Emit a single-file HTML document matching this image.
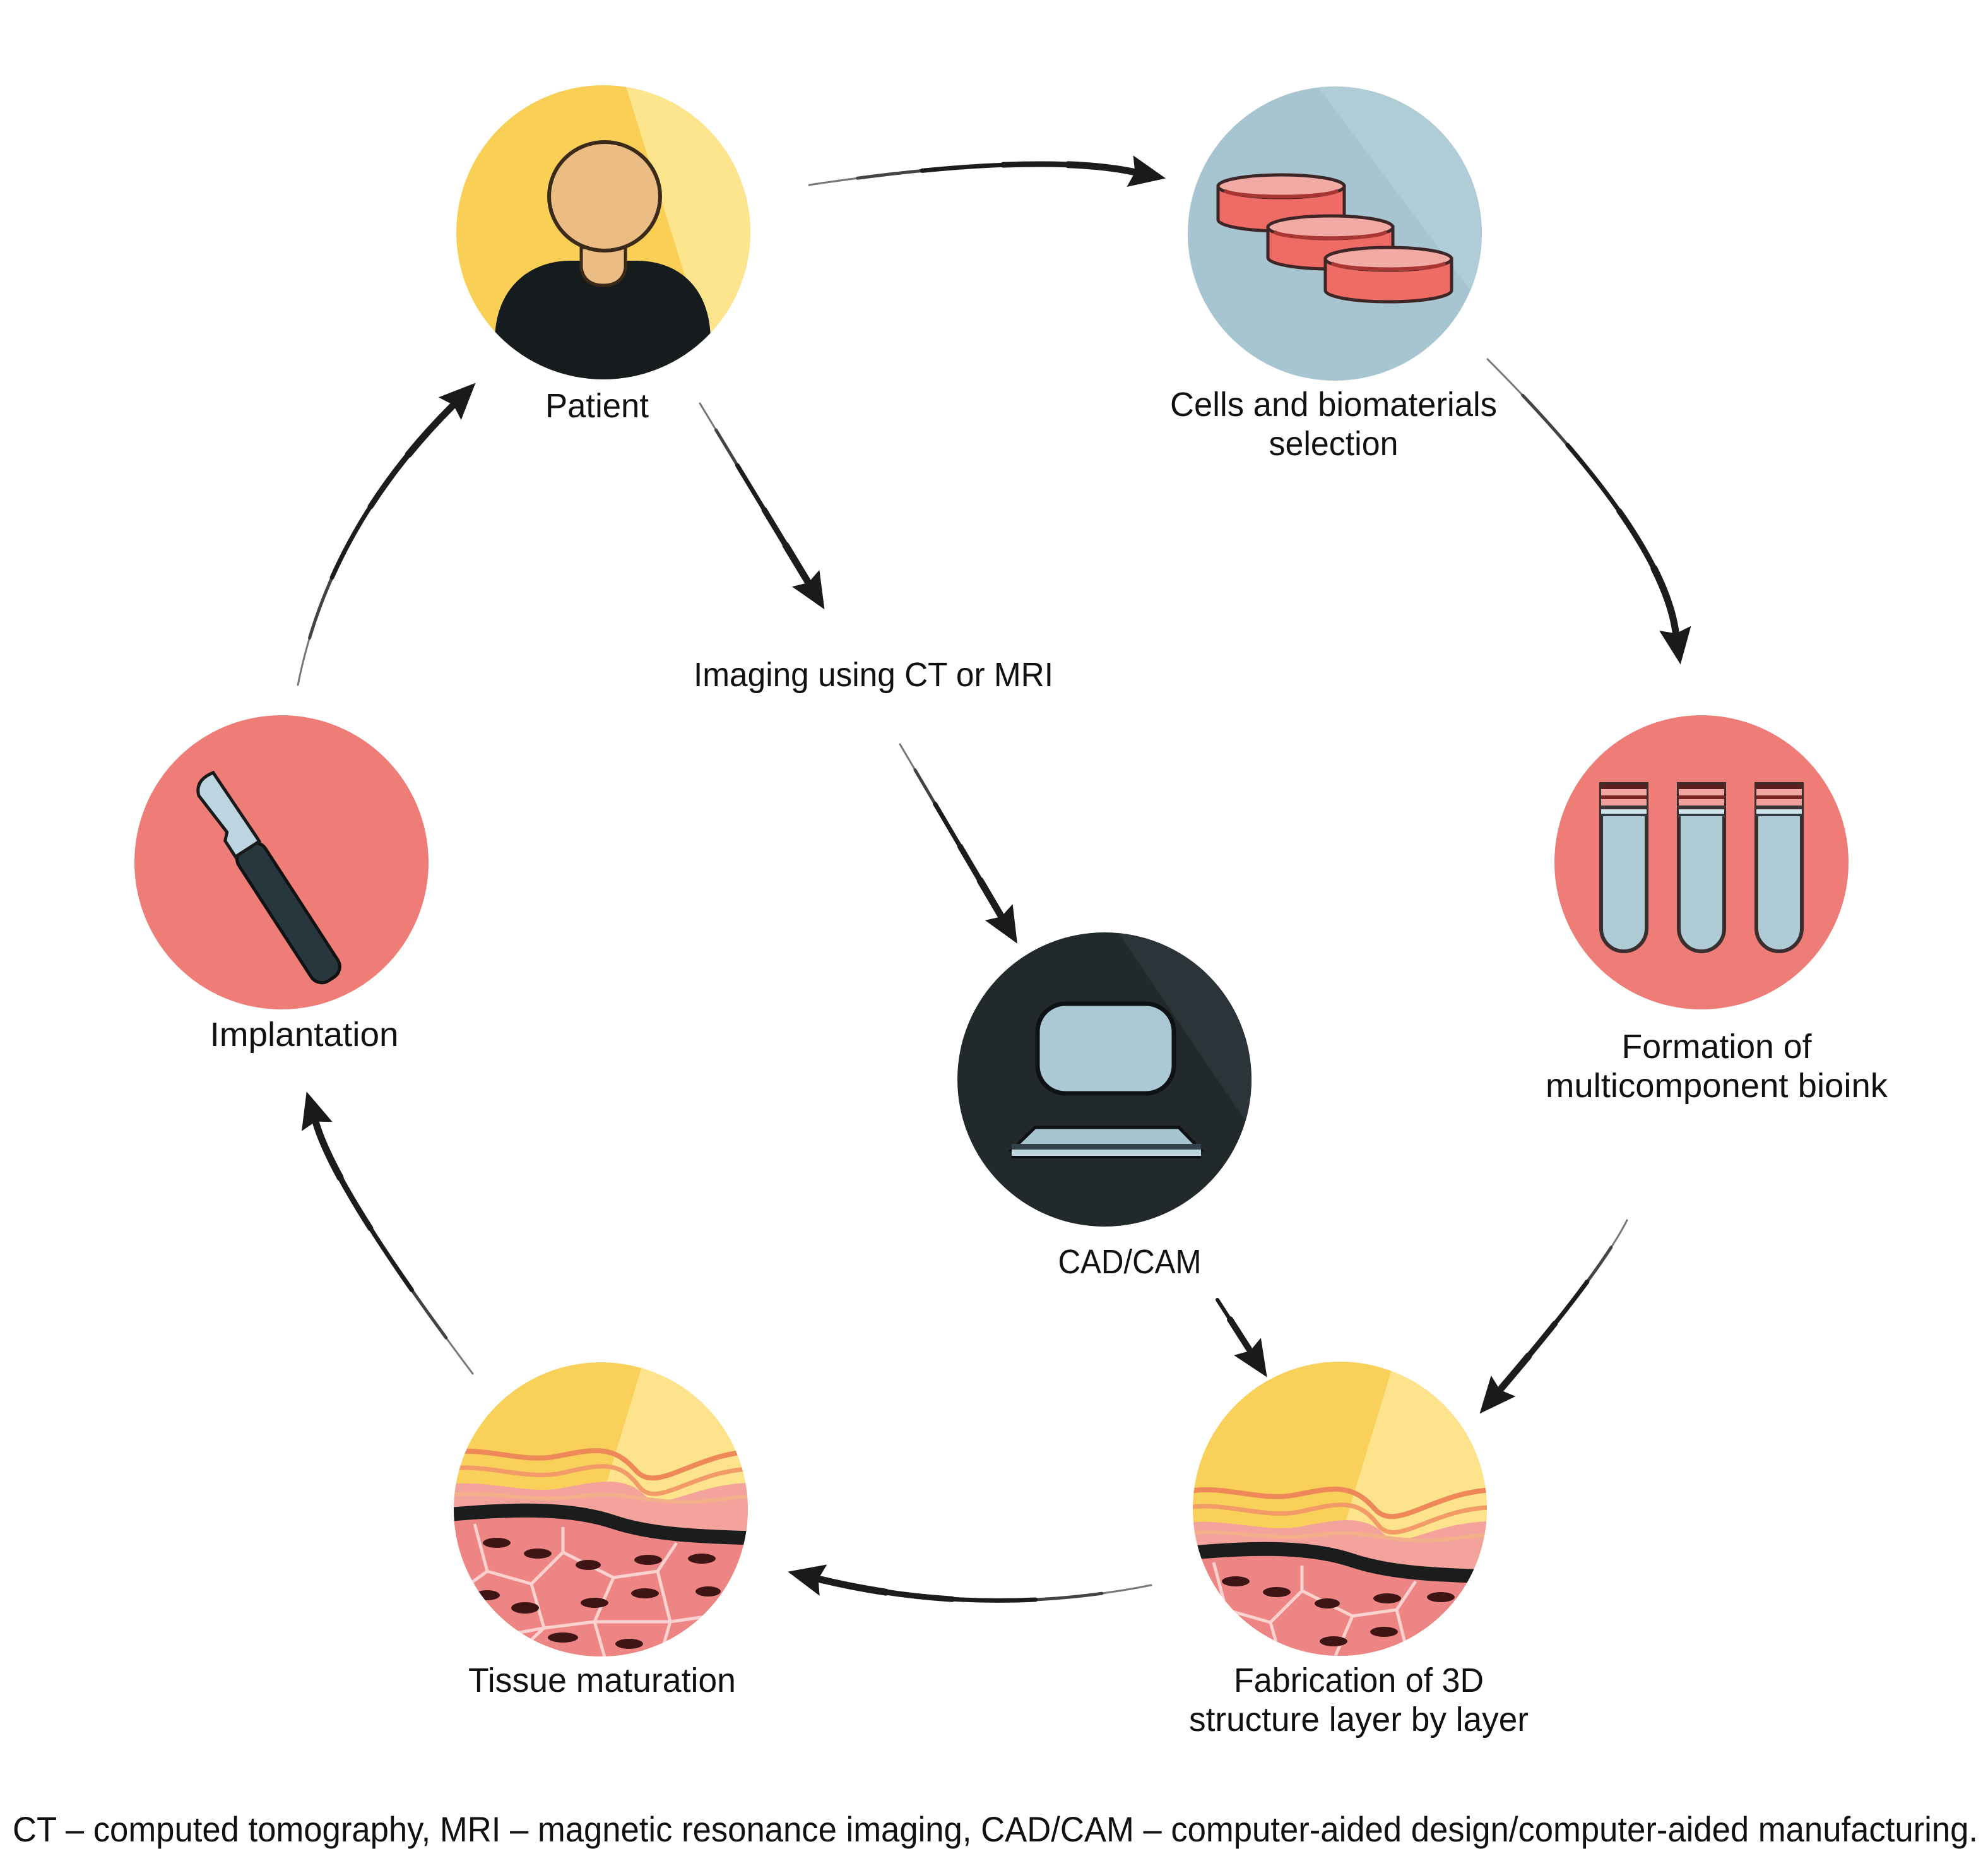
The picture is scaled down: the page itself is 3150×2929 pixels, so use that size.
<!DOCTYPE html>
<html><head><meta charset="utf-8"><style>
html,body{margin:0;padding:0;background:#fff;}
svg{display:block;}
text{font-family:"Liberation Sans",sans-serif;fill:#111;}
</style></head><body>
<svg width="3150" height="2929" viewBox="0 0 3150 2929" xmlns="http://www.w3.org/2000/svg">
<defs>
<marker id="ah" markerUnits="userSpaceOnUse" markerWidth="60" markerHeight="60" viewBox="0 -26 52 52" refX="4" refY="0" orient="auto">
<path d="M0,-22 L50,0 L0,22 L7,0 Z" fill="#1a1a1a"/>
</marker>
<clipPath id="cc" clipPathUnits="userSpaceOnUse"><circle cx="0" cy="0" r="233"/></clipPath>
<g id="tisInner">
<polygon points="85,-300 260,-300 260,-20 0,-20" fill="#fde48c"/>
<path d="M-260,-45 C-190,-60 -120,-30 -60,-42 S40,-60 70,-30 S150,-55 260,-50 L260,300 L-260,300 Z" fill="#f3a39b"/>
<path d="M-250,-95 C-190,-112 -130,-80 -70,-92 S20,-110 55,-70 S150,-100 250,-100" fill="none" stroke="#ef8858" stroke-width="8"/>
<path d="M-250,-70 C-190,-85 -120,-52 -60,-66 S30,-85 60,-45 S150,-75 250,-72" fill="none" stroke="#f29a68" stroke-width="7"/>
<path d="M-250,-30 C-180,-40 -110,-18 -40,-28 S60,-22 120,-20 S200,-30 250,-28" fill="none" stroke="#f4b08a" stroke-width="6"/>
<path d="M-260,8 C-120,-6 -40,-2 20,18 S150,41 260,44 L260,300 L-260,300 Z" fill="#ee8585"/>
<g fill="none" stroke="#fbd2cf" stroke-width="5" stroke-linejoin="round">
<path d="M-200,15 L-180,90 L-235,130"/>
<path d="M-180,90 L-110,110 L-60,60 L-60,20"/>
<path d="M-110,110 L-90,180 L-150,235"/>
<path d="M-90,180 L-10,170 L20,100 L-60,60"/>
<path d="M20,100 L90,90 L120,45"/>
<path d="M90,90 L110,170 L180,160 L225,100"/>
<path d="M-10,170 L10,240"/>
<path d="M110,170 L90,240"/>
<path d="M180,160 L205,225"/>
<path d="M-235,130 L-200,200"/>
<path d="M-150,235 L-200,200 L-90,180"/>
<path d="M-10,170 L110,170"/>
</g>
<g fill="#3f1414">
<ellipse cx="-165" cy="45" rx="22" ry="8"/>
<ellipse cx="-100" cy="62" rx="22" ry="8"/>
<ellipse cx="-20" cy="80" rx="20" ry="8"/>
<ellipse cx="75" cy="72" rx="22" ry="8"/>
<ellipse cx="160" cy="70" rx="22" ry="8"/>
<ellipse cx="-180" cy="128" rx="20" ry="8"/>
<ellipse cx="-120" cy="148" rx="22" ry="9"/>
<ellipse cx="-10" cy="140" rx="22" ry="8"/>
<ellipse cx="70" cy="125" rx="22" ry="8"/>
<ellipse cx="170" cy="122" rx="20" ry="8"/>
<ellipse cx="-150" cy="200" rx="20" ry="8"/>
<ellipse cx="-60" cy="195" rx="24" ry="8"/>
<ellipse cx="45" cy="205" rx="22" ry="8"/>
<ellipse cx="140" cy="200" rx="22" ry="8"/>
<ellipse cx="-20" cy="235" rx="22" ry="8"/>
</g>
<path d="M-260,2 C-120,-12 -40,-8 20,12 S150,35 260,38" fill="none" stroke="#1b1d1d" stroke-width="22"/>
</g>
</defs>

<!-- Patient -->
<g>
<circle cx="956" cy="368" r="233" fill="#f9cf55"/>
<g transform="translate(956,368)"><g clip-path="url(#cc)">
<polygon points="30,-250 260,-250 260,200 170,200" fill="#fde58e"/>
<path d="M-172,252 L-172,172 C-172,92 -121,47 -56,45 L56,45 C124,47 170,92 170,172 L170,252 Z" fill="#161b1d"/>
</g></g>
<path d="M921,392 L921,425 Q926,452 956,452 Q986,452 991,425 L991,392 Z" fill="#ecbc85" stroke="#3b2a1a" stroke-width="5"/>
<ellipse cx="958" cy="311" rx="88" ry="86" fill="#ecbc85" stroke="#3b2a1a" stroke-width="6"/>
</g>

<!-- Cells -->
<g>
<circle cx="2115" cy="370" r="233" fill="#a7c5d1"/>
<g transform="translate(2115,370)"><g clip-path="url(#cc)">
<polygon points="-40,-250 260,-250 260,150" fill="#b0ccd7"/>
</g></g>
<g stroke="#3e2626" stroke-width="5">
<path d="M1930,295 L1930,348 A100,18 0 0 0 2130,348 L2130,295 Z" fill="#ee6b66"/>
<ellipse cx="2030" cy="295" rx="100" ry="18" fill="#f2aaa4"/>
<path d="M1940,302 A92,12 0 0 0 2120,302" fill="none" stroke="#a83632" stroke-width="6"/>
<path d="M2009,360 L2009,408 A99,18 0 0 0 2207,408 L2207,360 Z" fill="#ee6b66"/>
<ellipse cx="2108" cy="360" rx="99" ry="18" fill="#f2aaa4"/>
<path d="M2019,367 A90,12 0 0 0 2197,367" fill="none" stroke="#a83632" stroke-width="6"/>
<path d="M2100,410 L2100,460 A100,18 0 0 0 2300,460 L2300,410 Z" fill="#ee6b66"/>
<ellipse cx="2200" cy="410" rx="100" ry="18" fill="#f2aaa4"/>
<path d="M2110,417 A92,12 0 0 0 2290,417" fill="none" stroke="#a83632" stroke-width="6"/>
</g>
</g>

<!-- Bioink -->
<g>
<circle cx="2696" cy="1366" r="233" fill="#ef7d77"/>
<g id="tube1">
<path d="M2537,1242 L2537,1471 A36,36 0 0 0 2609,1471 L2609,1242 Z" fill="#aecbd6" stroke="#3b2e2e" stroke-width="6"/>
<rect x="2537" y="1242" width="72" height="8" fill="#5a1f1f"/>
<rect x="2537" y="1250" width="72" height="10" fill="#f3a7a3"/>
<rect x="2537" y="1260" width="72" height="6" fill="#7a2424"/>
<rect x="2537" y="1266" width="72" height="10" fill="#f0a09c"/>
<rect x="2537" y="1276" width="72" height="6" fill="#3d3535"/>
<rect x="2537" y="1282" width="72" height="8" fill="#cfe3ea"/>
<line x1="2537" y1="1291" x2="2609" y2="1291" stroke="#2f3b40" stroke-width="4"/>
</g>
<use href="#tube1" transform="translate(123,0)"/>
<use href="#tube1" transform="translate(246,0)"/>
</g>

<!-- Implantation -->
<g>
<circle cx="446" cy="1366" r="233" fill="#ef7d77"/>
<g transform="translate(318,1232) rotate(57)">
<rect x="130" y="-25" width="250" height="50" rx="20" fill="#27373d" stroke="#111" stroke-width="5"/>
<path d="M4,-21 L125,-23 L135,-23 L135,22 L105,22 L95,12 L22,18 Q-2,10 4,-21 Z" fill="#bcd5e0" stroke="#1a1a1a" stroke-width="5"/>
</g>
</g>

<!-- CAD/CAM -->
<g>
<circle cx="1750" cy="1710" r="233" fill="#21292b"/>
<g transform="translate(1750,1710)"><g clip-path="url(#cc)">
<polygon points="10,-250 260,-250 260,120" fill="#2b3438"/>
</g></g>
<rect x="1644" y="1590" width="216" height="142" rx="44" fill="#aac9d5" stroke="#0e1214" stroke-width="7"/>
<polygon points="1640,1786 1868,1786 1903,1822 1603,1822" fill="#a6c5d1" stroke="#0e1214" stroke-width="5"/>
<rect x="1603" y="1812" width="300" height="9" fill="#33434a"/>
<rect x="1603" y="1821" width="300" height="10" fill="#bcd4dd"/>
<line x1="1603" y1="1833" x2="1903" y2="1833" stroke="#0e1214" stroke-width="4"/>
</g>

<!-- Tissue maturation -->
<g transform="translate(952,2391)"><g clip-path="url(#cc)">
<rect x="-240" y="-240" width="480" height="480" fill="#f9d05a"/>
<g transform="translate(0,8)"><use href="#tisInner"/></g>
</g></g>

<!-- Fabrication -->
<g transform="translate(2123,2390)"><g clip-path="url(#cc)">
<rect x="-240" y="-240" width="480" height="480" fill="#f9d05a"/>
<g transform="translate(0,70)"><use href="#tisInner"/></g>
</g></g>

<!-- Arrows -->
<g fill="none" stroke="#1c1c1c" stroke-linecap="round">
<path d="M1282,293 Q1637,240 1795,272" stroke="#777" stroke-width="3"/>
<path d="M1282,293 Q1637,240 1795,272" pathLength="100" stroke-dasharray="85 200" stroke-dashoffset="-15" stroke="#444" stroke-width="5"/>
<path d="M1282,293 Q1637,240 1795,272" pathLength="100" stroke-dasharray="65 200" stroke-dashoffset="-35" stroke-width="7"/>
<path d="M1282,293 Q1637,240 1795,272" pathLength="100" stroke-dasharray="40 200" stroke-dashoffset="-60" stroke-width="9"/>
<path d="M1282,293 Q1637,240 1795,272" pathLength="100" stroke-dasharray="20 200" stroke-dashoffset="-80" stroke-width="11" marker-end="url(#ah)"/>

<path d="M2357,569 Q2632,844 2655,1000" stroke="#777" stroke-width="3"/>
<path d="M2357,569 Q2632,844 2655,1000" pathLength="100" stroke-dasharray="85 200" stroke-dashoffset="-15" stroke="#444" stroke-width="5"/>
<path d="M2357,569 Q2632,844 2655,1000" pathLength="100" stroke-dasharray="65 200" stroke-dashoffset="-35" stroke-width="7"/>
<path d="M2357,569 Q2632,844 2655,1000" pathLength="100" stroke-dasharray="40 200" stroke-dashoffset="-60" stroke-width="9"/>
<path d="M2357,569 Q2632,844 2655,1000" pathLength="100" stroke-dasharray="20 200" stroke-dashoffset="-80" stroke-width="11" marker-end="url(#ah)"/>

<path d="M2578,1933 Q2537,2014 2379,2199" stroke="#777" stroke-width="3"/>
<path d="M2578,1933 Q2537,2014 2379,2199" pathLength="100" stroke-dasharray="85 200" stroke-dashoffset="-15" stroke="#444" stroke-width="5"/>
<path d="M2578,1933 Q2537,2014 2379,2199" pathLength="100" stroke-dasharray="65 200" stroke-dashoffset="-35" stroke-width="7"/>
<path d="M2578,1933 Q2537,2014 2379,2199" pathLength="100" stroke-dasharray="40 200" stroke-dashoffset="-60" stroke-width="9"/>
<path d="M2578,1933 Q2537,2014 2379,2199" pathLength="100" stroke-dasharray="20 200" stroke-dashoffset="-80" stroke-width="11" marker-end="url(#ah)"/>

<path d="M1929,2059 L1979,2137" stroke-width="6"/>
<path d="M1929,2059 L1979,2137" pathLength="100" stroke-dasharray="60 200" stroke-dashoffset="-40" stroke-width="10" marker-end="url(#ah)"/>

<path d="M1109,639 L1279,920" stroke="#777" stroke-width="3"/>
<path d="M1109,639 L1279,920" pathLength="100" stroke-dasharray="85 200" stroke-dashoffset="-15" stroke="#444" stroke-width="5"/>
<path d="M1109,639 L1279,920" pathLength="100" stroke-dasharray="65 200" stroke-dashoffset="-35" stroke-width="7"/>
<path d="M1109,639 L1279,920" pathLength="100" stroke-dasharray="40 200" stroke-dashoffset="-60" stroke-width="9"/>
<path d="M1109,639 L1279,920" pathLength="100" stroke-dasharray="20 200" stroke-dashoffset="-80" stroke-width="11" marker-end="url(#ah)"/>

<path d="M1426,1179 L1585,1449" stroke="#777" stroke-width="3"/>
<path d="M1426,1179 L1585,1449" pathLength="100" stroke-dasharray="85 200" stroke-dashoffset="-15" stroke="#444" stroke-width="5"/>
<path d="M1426,1179 L1585,1449" pathLength="100" stroke-dasharray="65 200" stroke-dashoffset="-35" stroke-width="7"/>
<path d="M1426,1179 L1585,1449" pathLength="100" stroke-dasharray="40 200" stroke-dashoffset="-60" stroke-width="9"/>
<path d="M1426,1179 L1585,1449" pathLength="100" stroke-dasharray="20 200" stroke-dashoffset="-80" stroke-width="11" marker-end="url(#ah)"/>

<path d="M1824,2511 Q1560,2564 1300,2502" stroke="#777" stroke-width="3"/>
<path d="M1824,2511 Q1560,2564 1300,2502" pathLength="100" stroke-dasharray="85 200" stroke-dashoffset="-15" stroke="#444" stroke-width="5"/>
<path d="M1824,2511 Q1560,2564 1300,2502" pathLength="100" stroke-dasharray="65 200" stroke-dashoffset="-35" stroke-width="7"/>
<path d="M1824,2511 Q1560,2564 1300,2502" pathLength="100" stroke-dasharray="40 200" stroke-dashoffset="-60" stroke-width="9"/>
<path d="M1824,2511 Q1560,2564 1300,2502" pathLength="100" stroke-dasharray="20 200" stroke-dashoffset="-80" stroke-width="11" marker-end="url(#ah)"/>

<path d="M749,2176 Q534,1890 501,1780" stroke="#777" stroke-width="3"/>
<path d="M749,2176 Q534,1890 501,1780" pathLength="100" stroke-dasharray="85 200" stroke-dashoffset="-15" stroke="#444" stroke-width="5"/>
<path d="M749,2176 Q534,1890 501,1780" pathLength="100" stroke-dasharray="65 200" stroke-dashoffset="-35" stroke-width="7"/>
<path d="M749,2176 Q534,1890 501,1780" pathLength="100" stroke-dasharray="40 200" stroke-dashoffset="-60" stroke-width="9"/>
<path d="M749,2176 Q534,1890 501,1780" pathLength="100" stroke-dasharray="20 200" stroke-dashoffset="-80" stroke-width="11" marker-end="url(#ah)"/>

<path d="M472,1085 Q521,839 716,644" stroke="#777" stroke-width="3"/>
<path d="M472,1085 Q521,839 716,644" pathLength="100" stroke-dasharray="85 200" stroke-dashoffset="-15" stroke="#444" stroke-width="5"/>
<path d="M472,1085 Q521,839 716,644" pathLength="100" stroke-dasharray="65 200" stroke-dashoffset="-35" stroke-width="7"/>
<path d="M472,1085 Q521,839 716,644" pathLength="100" stroke-dasharray="40 200" stroke-dashoffset="-60" stroke-width="9"/>
<path d="M472,1085 Q521,839 716,644" pathLength="100" stroke-dasharray="20 200" stroke-dashoffset="-80" stroke-width="11" marker-end="url(#ah)"/>
</g>

<!-- Labels -->
<g font-size="54" text-anchor="middle">
<text x="946" y="661" textLength="164" lengthAdjust="spacingAndGlyphs">Patient</text>
<text x="2113" y="659" textLength="518" lengthAdjust="spacingAndGlyphs">Cells and biomaterials</text>
<text x="2113" y="721" textLength="205" lengthAdjust="spacingAndGlyphs">selection</text>
<text x="1384" y="1087" textLength="570" lengthAdjust="spacingAndGlyphs">Imaging using CT or MRI</text>
<text x="2720" y="1676" textLength="301" lengthAdjust="spacingAndGlyphs">Formation of</text>
<text x="2720" y="1738" textLength="542" lengthAdjust="spacingAndGlyphs">multicomponent bioink</text>
<text x="482" y="1657" textLength="299" lengthAdjust="spacingAndGlyphs">Implantation</text>
<text x="1790" y="2017" textLength="227" lengthAdjust="spacingAndGlyphs">CAD/CAM</text>
<text x="954" y="2680" textLength="424" lengthAdjust="spacingAndGlyphs">Tissue maturation</text>
<text x="2153" y="2680" textLength="396" lengthAdjust="spacingAndGlyphs">Fabrication of 3D</text>
<text x="2153" y="2742" textLength="538" lengthAdjust="spacingAndGlyphs">structure layer by layer</text>
</g>
<text x="20" y="2917" font-size="56" textLength="3114" lengthAdjust="spacingAndGlyphs">CT – computed tomography, MRI – magnetic resonance imaging, CAD/CAM – computer-aided design/computer-aided manufacturing.</text>
</svg>
</body></html>
